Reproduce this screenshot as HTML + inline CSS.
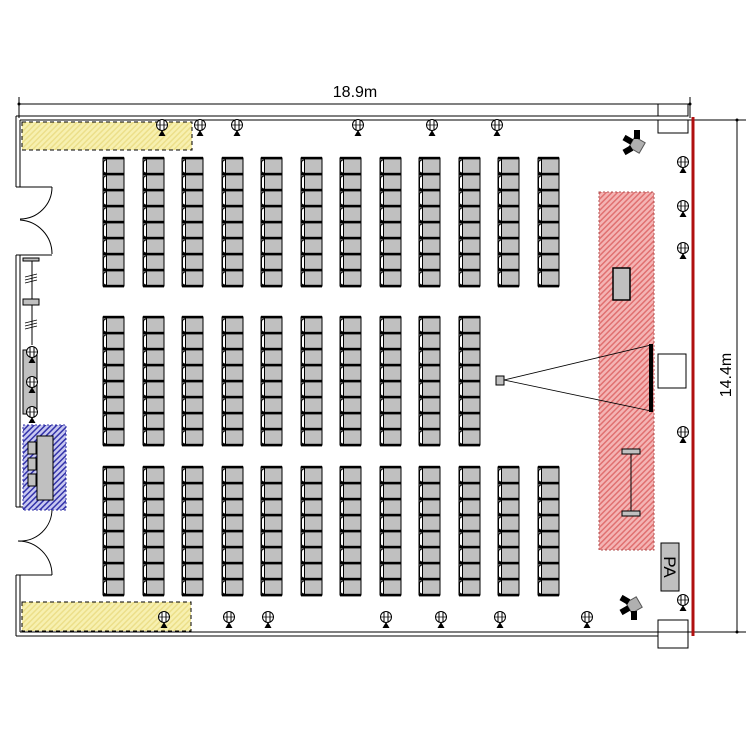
<!DOCTYPE html>
<html><head><meta charset="utf-8"><style>html,body{margin:0;padding:0;background:#fff}svg{display:block}</style></head>
<body>
<svg width="750" height="750" viewBox="0 0 750 750" xmlns="http://www.w3.org/2000/svg">
<defs>
<pattern id="yh" width="4" height="4" patternUnits="userSpaceOnUse" patternTransform="rotate(45)">
<rect width="4" height="4" fill="#f7f0b0"/><rect width="1.5" height="4" fill="#ecdf8a"/></pattern>
<pattern id="rh" width="4" height="4" patternUnits="userSpaceOnUse" patternTransform="rotate(45)">
<rect width="4" height="4" fill="#f4b4b4"/><rect width="1.5" height="4" fill="#e07070"/></pattern>
<pattern id="bh" width="4" height="4" patternUnits="userSpaceOnUse" patternTransform="rotate(45)">
<rect width="4" height="4" fill="#c8c8f0"/><rect width="1.5" height="4" fill="#3333aa"/></pattern>
<g id="S">
<rect x="0" y="0" width="21" height="16" fill="#c0c0c0" stroke="#000" stroke-width="1"/>
<path d="M3.5,2 Q0.5,2 0.5,5 L0.5,13 Q0.5,15 3.5,15" fill="#fff" stroke="#000" stroke-width="1"/>
<line x1="3.5" y1="1" x2="3.5" y2="15" stroke="#000"/>
<rect x="0" y="-1.2" width="21" height="2.6" fill="#000"/>
</g>
<g id="C">
<use href="#S" y="0"/><use href="#S" y="16"/><use href="#S" y="32"/><use href="#S" y="48"/>
<use href="#S" y="64"/><use href="#S" y="80"/><use href="#S" y="96"/><use href="#S" y="112"/>
<rect x="0" y="126.8" width="21" height="2.6" fill="#000"/>
</g>
<g id="L"><circle cx="0" cy="0" r="5.5" fill="#fff" stroke="#000" stroke-width="1"/><line x1="-2" y1="-5" x2="-2" y2="5" stroke="#000"/><line x1="2" y1="-5" x2="2" y2="5" stroke="#000"/><line x1="-5" y1="0" x2="5" y2="0" stroke="#000" stroke-width="0.7"/><path d="M0,5 L-3.5,11 L3.5,11 Z" fill="#000"/></g>
<g id="cam"><rect x="-6" y="-6" width="12" height="12" fill="#b0b0b0" stroke="#555"/><rect x="-15" y="-3" width="9" height="6" fill="#000"/><rect x="6" y="-3" width="9" height="6" fill="#000" transform="rotate(120)"/><rect x="6" y="-3" width="9" height="6" fill="#000" transform="rotate(240)"/></g>
</defs>

<g stroke="#000" stroke-width="1" fill="none">
<line x1="19" y1="97" x2="19" y2="118"/>
<line x1="19" y1="104" x2="690" y2="104"/>
<line x1="690" y1="97" x2="690" y2="118"/>
<line x1="690" y1="120" x2="746" y2="120"/>
<line x1="690" y1="632" x2="746" y2="632"/>
<line x1="737" y1="120" x2="737" y2="632"/>
</g>
<circle cx="19" cy="104" r="1.5"/><circle cx="690" cy="104" r="1.5"/><circle cx="737" cy="120" r="1.5"/><circle cx="737" cy="632" r="1.5"/>
<text x="355" y="97" font-family="Liberation Sans, sans-serif" font-size="16" text-anchor="middle">18.9m</text>
<text transform="translate(731,375) rotate(-90)" font-family="Liberation Sans, sans-serif" font-size="16" text-anchor="middle">14.4m</text>

<g stroke="#000" stroke-width="1" fill="none">
<line x1="16" y1="116" x2="658" y2="116"/>
<line x1="20" y1="120" x2="690" y2="120"/>
<rect x="658" y="104" width="30" height="12"/>
<rect x="658" y="120" width="30" height="13"/>
<line x1="16" y1="116" x2="16" y2="187"/><line x1="20" y1="120" x2="20" y2="187"/>
<line x1="16" y1="187" x2="52" y2="187"/>
<path d="M52,187 A32,32 0 0 1 20,219"/>
<path d="M52,254 A34,34 0 0 0 20,220"/>
<line x1="16" y1="255" x2="52" y2="255"/>
<line x1="16" y1="255" x2="16" y2="507"/><line x1="20" y1="255" x2="20" y2="507"/>
<line x1="16" y1="507" x2="52" y2="507"/>
<path d="M52,509 A32,32 0 0 1 18,541"/>
<path d="M52,575 A34,34 0 0 0 18,541"/>
<line x1="16" y1="575" x2="52" y2="575"/>
<line x1="16" y1="575" x2="16" y2="636"/><line x1="20" y1="575" x2="20" y2="632"/>
<line x1="20" y1="632" x2="690" y2="632"/>
<line x1="16" y1="636" x2="658" y2="636"/>
<rect x="658" y="620" width="30" height="28"/>
</g>
<line x1="693" y1="117" x2="693" y2="636" stroke="#b01010" stroke-width="3"/>

<rect x="22" y="122" width="170" height="28" fill="url(#yh)" stroke="#000" stroke-dasharray="4,3"/>
<rect x="22" y="602" width="169" height="29" fill="url(#yh)" stroke="#000" stroke-dasharray="4,3"/>
<rect x="599" y="192" width="55" height="358" fill="url(#rh)" stroke="#b05050" stroke-dasharray="2,2"/>
<rect x="23" y="425" width="43" height="85" fill="url(#bh)" stroke="#3333aa" stroke-dasharray="2,2"/>
<rect x="37" y="436" width="16" height="64" fill="#c0c0c0" stroke="#000"/>
<g fill="#c0c0c0" stroke="#000"><rect x="28" y="442" width="8" height="12"/><rect x="28" y="458" width="8" height="12"/><rect x="28" y="474" width="8" height="12"/></g>

<line x1="32" y1="260" x2="32" y2="345" stroke="#000"/>
<rect x="23" y="258" width="16" height="3" fill="#c0c0c0" stroke="#000"/>
<rect x="23" y="299" width="16" height="6" fill="#c0c0c0" stroke="#000"/>
<g stroke="#000" stroke-width="0.8"><path d="M25,277 l12,-3 M25,280 l12,-3 M25,283 l12,-3 M25,323 l12,-3 M25,326 l12,-3 M25,329 l12,-3"/></g>
<rect x="23" y="350" width="14" height="64" fill="#c0c0c0" stroke="#000"/>
<use href="#L" x="32" y="352"/><use href="#L" x="32" y="382"/><use href="#L" x="32" y="412"/>

<!-- seats -->
<use href="#C" x="103" y="158"/><use href="#C" x="143" y="158"/><use href="#C" x="182" y="158"/><use href="#C" x="222" y="158"/><use href="#C" x="261" y="158"/><use href="#C" x="301" y="158"/><use href="#C" x="340" y="158"/><use href="#C" x="380" y="158"/><use href="#C" x="419" y="158"/><use href="#C" x="459" y="158"/><use href="#C" x="498" y="158"/><use href="#C" x="538" y="158"/>
<use href="#C" x="103" y="317"/><use href="#C" x="143" y="317"/><use href="#C" x="182" y="317"/><use href="#C" x="222" y="317"/><use href="#C" x="261" y="317"/><use href="#C" x="301" y="317"/><use href="#C" x="340" y="317"/><use href="#C" x="380" y="317"/><use href="#C" x="419" y="317"/><use href="#C" x="459" y="317"/>
<use href="#C" x="103" y="467"/><use href="#C" x="143" y="467"/><use href="#C" x="182" y="467"/><use href="#C" x="222" y="467"/><use href="#C" x="261" y="467"/><use href="#C" x="301" y="467"/><use href="#C" x="340" y="467"/><use href="#C" x="380" y="467"/><use href="#C" x="419" y="467"/><use href="#C" x="459" y="467"/><use href="#C" x="498" y="467"/><use href="#C" x="538" y="467"/>

<rect x="613" y="268" width="17" height="32" fill="#c0c0c0" stroke="#000" stroke-width="1.5"/>
<rect x="496" y="376" width="8" height="9" fill="#c0c0c0" stroke="#000"/>
<g stroke="#000" stroke-width="0.8"><line x1="504" y1="380" x2="651" y2="345"/><line x1="504" y1="380" x2="651" y2="411"/></g>
<rect x="649" y="344" width="4" height="68" fill="#000"/>
<rect x="658" y="354" width="28" height="34" fill="#fff" stroke="#000"/>
<line x1="631" y1="452" x2="631" y2="514" stroke="#000"/>
<rect x="622" y="449" width="18" height="5" fill="#c0c0c0" stroke="#000"/>
<rect x="622" y="511" width="18" height="5" fill="#c0c0c0" stroke="#000"/>
<rect x="661" y="543" width="18" height="48" fill="#c0c0c0" stroke="#000"/>
<text transform="translate(664,567) rotate(90)" font-family="Liberation Sans, sans-serif" font-size="17" text-anchor="middle">PA</text>

<use href="#cam" transform="translate(637,145) rotate(30)"/>
<use href="#cam" transform="translate(634,605) rotate(-30)"/>

<use href="#L" x="162" y="125"/><use href="#L" x="200" y="125"/><use href="#L" x="237" y="125"/><use href="#L" x="358" y="125"/><use href="#L" x="432" y="125"/><use href="#L" x="497" y="125"/>
<use href="#L" x="683" y="162"/><use href="#L" x="683" y="206"/><use href="#L" x="683" y="248"/><use href="#L" x="683" y="432"/><use href="#L" x="683" y="600"/>
<use href="#L" x="164" y="617"/><use href="#L" x="229" y="617"/><use href="#L" x="268" y="617"/><use href="#L" x="386" y="617"/><use href="#L" x="441" y="617"/><use href="#L" x="500" y="617"/><use href="#L" x="587" y="617"/>
</svg>
</body></html>
